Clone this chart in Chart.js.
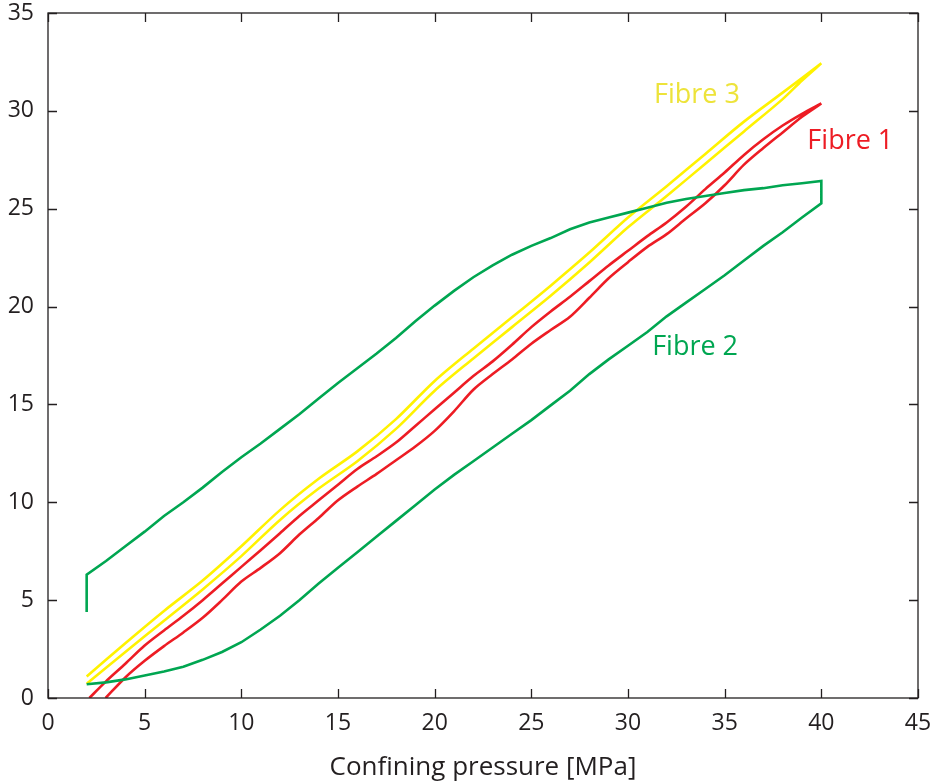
<!DOCTYPE html>
<html>
<head>
<meta charset="utf-8">
<script src="https://cdn.jsdelivr.net/npm/chart.js@4.4.1/dist/chart.umd.min.js"></script>
<style>
  html, body { margin: 0; padding: 0; background: #fff; }
  #wrap { width: 933px; height: 783px; }
</style>
</head>
<body>
<div id="wrap"><canvas id="myChart" width="933" height="783"></canvas></div>
<script>
// axis ticks
const xTicks = [0, 5, 10, 15, 20, 25, 30, 35, 40, 45];
const yTicks = [0, 5, 10, 15, 20, 25, 30, 35];

// Fibre 1 (red): loading branch and unloading branch
const fibre1UpP = [2.14, 3, 4, 5, 6, 7, 8, 9, 10, 11, 12, 13, 14, 15, 16, 17, 18, 19, 20, 21, 22, 23, 24, 25, 26, 27, 28, 29, 30, 31, 32, 33, 34, 35, 36, 37, 38, 39, 40];
const fibre1UpV = [0, 0.85, 1.75, 2.68, 3.45, 4.2, 5.0, 5.85, 6.7, 7.55, 8.42, 9.3, 10.1, 10.9, 11.7, 12.35, 13.05, 13.9, 14.75, 15.6, 16.45, 17.2, 18.05, 18.95, 19.75, 20.5, 21.3, 22.1, 22.85, 23.6, 24.3, 25.1, 26.0, 26.85, 27.75, 28.55, 29.25, 29.85, 30.38];
const fibre1DownP = [40, 39, 38, 37, 36, 35, 34, 33, 32, 31, 30, 29, 28, 27, 26, 25, 24, 23, 22, 21, 20, 19, 18, 17, 16, 15, 14, 13, 12, 11, 10, 9, 8, 7, 6, 5, 4, 2.98];
const fibre1DownV = [30.38, 29.7, 28.9, 28.1, 27.25, 26.2, 25.28, 24.5, 23.7, 23.05, 22.27, 21.45, 20.45, 19.48, 18.8, 18.1, 17.3, 16.55, 15.75, 14.65, 13.65, 12.85, 12.15, 11.45, 10.8, 10.1, 9.2, 8.35, 7.4, 6.65, 5.95, 5.0, 4.1, 3.35, 2.65, 1.9, 1.05, 0];

// Fibre 2 (green)
const fibre2UpP = [2, 2, 3, 4, 5, 6, 7, 8, 9, 10, 11, 12, 13, 14, 15, 16, 17, 18, 19, 20, 21, 22, 23, 24, 25, 26, 27, 28, 29, 30, 31, 32, 33, 34, 35, 36, 37, 38, 39, 40];
const fibre2UpV = [4.4, 6.3, 7.0, 7.75, 8.5, 9.3, 10.0, 10.75, 11.55, 12.3, 13.0, 13.75, 14.5, 15.3, 16.1, 16.85, 17.6, 18.4, 19.25, 20.05, 20.8, 21.5, 22.1, 22.65, 23.1, 23.5, 23.95, 24.3, 24.55, 24.8, 25.05, 25.3, 25.5, 25.65, 25.8, 25.95, 26.05, 26.2, 26.3, 26.42];
const fibre2DownP = [40, 39, 38, 37, 36, 35, 34, 33, 32, 31, 30, 29, 28, 27, 26, 25, 24, 23, 22, 21, 20, 19, 18, 17, 16, 15, 14, 13, 12, 11, 10, 9, 8, 7, 6, 5, 4, 3, 2];
const fibre2DownV = [25.28, 24.55, 23.8, 23.1, 22.35, 21.6, 20.9, 20.2, 19.5, 18.7, 18.0, 17.3, 16.55, 15.7, 14.95, 14.2, 13.5, 12.8, 12.1, 11.4, 10.65, 9.85, 9.05, 8.25, 7.45, 6.65, 5.85, 5.0, 4.2, 3.5, 2.85, 2.35, 1.95, 1.6, 1.35, 1.15, 0.95, 0.8, 0.7];

// Fibre 3 (yellow)
const fibre3UpP = [2, 4, 6, 8, 10, 12, 14, 16, 18, 20, 22, 24, 26, 28, 30, 32, 34, 36, 38, 40];
const fibre3UpV = [1.1, 2.8, 4.45, 6.0, 7.75, 9.6, 11.2, 12.6, 14.25, 16.2, 17.85, 19.45, 21.07, 22.76, 24.55, 26.15, 27.8, 29.45, 30.93, 32.43];
const fibre3DownP = [40, 39, 38, 36, 34, 32, 30, 28, 26, 24, 22, 20, 18, 16, 14, 12, 10, 8, 6, 4, 2.2, 2];
const fibre3DownV = [32.43, 31.55, 30.6, 28.95, 27.3, 25.65, 24.05, 22.25, 20.55, 18.95, 17.35, 15.7, 13.75, 12.1, 10.7, 9.1, 7.25, 5.55, 3.95, 2.35, 0.9, 0.72];

// curve labels, placed in data units
const labelText = ['Fibre 3', 'Fibre 1', 'Fibre 2'];
const labelX = [33.57, 41.5, 33.47];
const labelY = [30.8, 28.46, 17.94];

const RED = '#ED1C24', GREEN = '#00A651', YELLOW = '#FFF200';
const labelColors = ['#EDE33A', RED, GREEN];
const INK = '#231F20';
const FONT = "'Open Sans', 'Noto Sans', sans-serif";

function toPoints(pa, va, pb, vb) {
  const pts = pa.map((p, i) => ({ x: p, y: va[i] }));
  return pts.concat(pb.map((p, i) => ({ x: p, y: vb[i] })));
}

const boxPlugin = {
  id: 'box',
  afterDraw(chart) {
    const { ctx, chartArea: a, scales } = chart;
    ctx.save();
    ctx.strokeStyle = INK;
    ctx.lineWidth = 1.3;
    ctx.strokeRect(a.left, a.top, a.right - a.left, a.bottom - a.top);
    const len = 9;
    ctx.beginPath();
    xTicks.forEach(v => {
      const px = Math.round(scales.x.getPixelForValue(v)) + 0.5;
      ctx.moveTo(px, a.bottom); ctx.lineTo(px, a.bottom - len);
      ctx.moveTo(px, a.top); ctx.lineTo(px, a.top + len);
    });
    yTicks.forEach(v => {
      const py = Math.round(scales.y.getPixelForValue(v)) + 0.5;
      ctx.moveTo(a.left, py); ctx.lineTo(a.left + len, py);
      ctx.moveTo(a.right, py); ctx.lineTo(a.right - len, py);
    });
    ctx.stroke();

    ctx.font = '27px ' + FONT;
    ctx.textAlign = 'center';
    ctx.textBaseline = 'middle';
    labelText.forEach((t, i) => {
      ctx.fillStyle = labelColors[i];
      ctx.fillText(t, scales.x.getPixelForValue(labelX[i]), scales.y.getPixelForValue(labelY[i]));
    });
    ctx.restore();
  }
};

const common = { showLine: true, pointRadius: 0, borderWidth: 2.6, fill: false };

const ctx = document.getElementById('myChart').getContext('2d');
const myChart = new Chart(ctx, {
  type: 'scatter',
  data: {
    datasets: [
      Object.assign({ label: 'Fibre 2', data: toPoints(fibre2UpP, fibre2UpV, fibre2DownP, fibre2DownV), borderColor: GREEN, backgroundColor: GREEN, tension: 0 }, common),
      Object.assign({ label: 'Fibre 1', data: toPoints(fibre1UpP, fibre1UpV, fibre1DownP, fibre1DownV), borderColor: RED, backgroundColor: RED, tension: 0.3 }, common),
      Object.assign({ label: 'Fibre 3', data: toPoints(fibre3UpP, fibre3UpV, fibre3DownP, fibre3DownV), borderColor: YELLOW, backgroundColor: YELLOW, tension: 0.3 }, common)
    ]
  },
  options: {
    responsive: false,
    animation: false,
    layout: { padding: { top: 13, right: 15, left: 0, bottom: 0 } },
    plugins: { legend: { display: false }, tooltip: { enabled: false } },
    scales: {
      x: {
        type: 'linear', min: 0, max: 45,
        afterBuildTicks: s => { s.ticks = xTicks.map(v => ({ value: v })); },
        afterFit: s => { s.height = 85; s.paddingLeft = 0; s.paddingRight = 0; },
        grid: { display: false, drawTicks: false },
        border: { display: false },
        ticks: { color: INK, font: { family: FONT, size: 23 }, padding: 12, maxRotation: 0 },
        title: { display: true, text: 'Confining pressure [MPa]', color: INK, font: { family: FONT, size: 26 }, padding: { top: 0, bottom: 0 } }
      },
      y: {
        type: 'linear', min: 0, max: 35,
        afterBuildTicks: s => { s.ticks = yTicks.map(v => ({ value: v })); },
        afterFit: s => { s.width = 48; s.paddingTop = 0; s.paddingBottom = 0; },
        grid: { display: false, drawTicks: false },
        border: { display: false },
        ticks: { color: INK, font: { family: FONT, size: 23 }, padding: 14 }
      }
    }
  },
  plugins: [boxPlugin]
});
</script>
</body>
</html>
